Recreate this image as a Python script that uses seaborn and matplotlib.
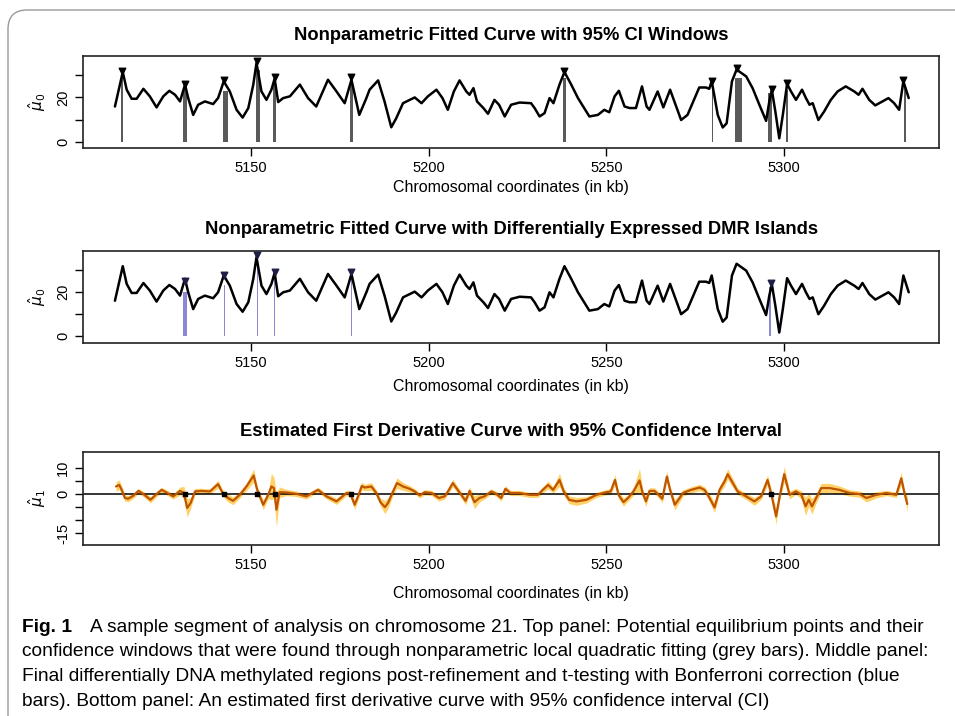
import matplotlib
matplotlib.use("Agg")
import matplotlib.pyplot as plt
import seaborn as sns
import pandas as pd
from matplotlib.patches import FancyBboxPatch

# fitted curve (mu0), x in kb
pos_kb = [5111.8, 5114.0, 5115.1, 5116.5, 5117.9, 5119.8, 5121.6, 5123.5, 5125.4, 5127.1,
          5128.7, 5130.1, 5131.5, 5132.4, 5133.8, 5135.2, 5137.1, 5139.4, 5140.8, 5142.4,
          5144.1, 5146.0, 5147.7, 5149.3, 5150.7, 5151.6, 5153.0, 5154.4, 5155.8, 5156.7,
          5157.7, 5159.1, 5161.0, 5163.8, 5166.1, 5168.4, 5171.7, 5174.1, 5176.4, 5178.3,
          5180.5, 5182.5, 5183.4, 5185.8, 5187.6, 5189.5, 5190.9, 5192.8, 5194.7, 5196.1,
          5198.0, 5199.8, 5202.2, 5203.9, 5205.4, 5207.1, 5208.7, 5210.6, 5211.5, 5212.6,
          5213.6, 5215.4, 5216.7, 5218.5, 5219.8, 5221.4, 5223.2, 5225.6, 5228.8, 5229.8,
          5231.2, 5232.6, 5234.0, 5235.1, 5236.8, 5238.2, 5240.1, 5242.0, 5245.2, 5247.6,
          5249.4, 5250.8, 5252.3, 5253.5, 5255.1, 5256.5, 5258.3, 5260.0, 5261.3, 5262.1,
          5264.4, 5266.0, 5267.9, 5269.1, 5271.0, 5272.8, 5274.2, 5276.1, 5278.0, 5278.9,
          5279.6, 5280.3, 5281.3, 5282.7, 5283.8, 5285.3, 5286.6, 5289.3, 5291.1, 5293.0,
          5294.9, 5295.8, 5296.5, 5297.5, 5298.6, 5299.6, 5300.8, 5301.9, 5303.3, 5305.0,
          5306.1, 5307.1, 5308.0, 5309.6, 5311.2, 5313.1, 5315.0, 5317.3, 5319.7, 5320.9,
          5322.0, 5323.9, 5325.6, 5327.6, 5329.3, 5330.9, 5332.3, 5333.5, 5335.0]
mu0 = [15.9, 31.5, 23.5, 19.4, 19.4, 23.9, 20.5, 15.5, 20.5, 23.0,
       21.2, 18.2, 25.8, 19.7, 12.1, 16.7, 18.2, 17.0, 19.7, 27.3,
       22.7, 14.4, 10.9, 15.2, 25.8, 35.6, 22.7, 18.9, 23.5, 28.5,
       17.9, 19.7, 20.5, 25.8, 19.7, 15.9, 28.0, 22.7, 17.4, 28.0,
       12.1, 19.7, 23.5, 27.7, 18.2, 6.5, 10.6, 17.4, 18.9, 20.0,
       17.4, 20.5, 23.5, 19.7, 14.4, 22.7, 27.7, 22.7, 21.2, 24.2,
       18.2, 15.2, 12.6, 18.9, 16.7, 11.4, 16.7, 17.7, 17.4, 15.2,
       11.4, 12.9, 19.7, 17.4, 25.8, 31.5, 25.8, 19.7, 11.4, 12.1,
       14.4, 13.3, 20.5, 23.0, 15.9, 15.2, 15.2, 25.0, 15.9, 14.4,
       22.7, 15.5, 23.5, 18.2, 9.8, 12.1, 17.4, 24.5, 24.5, 23.9,
       27.3, 21.2, 12.1, 6.4, 8.3, 27.3, 32.6, 29.5, 24.2, 16.7,
       9.4, 18.2, 23.5, 13.6, 1.5, 12.1, 26.1, 22.7, 18.9, 23.5,
       19.7, 16.7, 17.4, 9.8, 13.6, 18.9, 22.7, 25.0, 22.7, 21.2,
       23.9, 18.9, 16.4, 18.2, 19.7, 17.4, 14.4, 27.3, 19.7]

# grey CI windows (top panel)
win_center = [5113.9, 5131.4, 5142.8, 5152.0, 5156.7, 5178.3, 5238.2, 5279.8, 5287.1, 5295.9, 5300.7, 5333.9]
win_width = [0.6, 1.1, 1.4, 1.1, 0.9, 0.85, 0.95, 0.4, 2.0, 1.2, 0.45, 0.45]
win_top = [30.0, 24.0, 23.0, 32.6, 27.0, 27.0, 28.8, 25.8, 28.8, 22.0, 23.5, 25.8]
peak_x = [5113.9, 5131.4, 5142.6, 5151.7, 5156.7, 5178.3, 5238.2, 5279.6, 5286.6, 5296.5, 5300.8, 5333.5]
peak_y = [31.8, 26.1, 27.7, 36.4, 29.1, 29.1, 31.8, 27.3, 33.3, 23.8, 26.5, 28.0]

# DMR islands (middle panel)
dmr_center = [5131.4, 5142.6, 5151.8, 5156.7, 5178.3, 5296.0]
dmr_width = [1.1, 0.4, 0.3, 0.3, 0.3, 0.3]
dmr_top = [19.8, 23.0, 34.0, 27.0, 27.0, 22.0]
dmr_peak_x = [5131.4, 5142.6, 5151.7, 5156.7, 5178.3, 5296.3]
dmr_peak_y = [25.0, 27.7, 36.4, 29.1, 29.1, 23.8]

# first derivative (mu1) with CI half width
d1_kb = [5112.1, 5113.0, 5113.7, 5114.6, 5115.5, 5116.9, 5118.4, 5119.8, 5121.8, 5123.5,
         5124.9, 5126.3, 5128.2, 5130.1, 5131.2, 5132.1, 5133.1, 5134.3, 5136.1, 5138.5,
         5140.8, 5142.2, 5143.6, 5145.0, 5146.9, 5148.8, 5150.8, 5151.8, 5153.5, 5154.9,
         5155.8, 5156.5, 5157.2, 5158.1, 5160.0, 5162.8, 5165.6, 5168.9, 5171.3, 5174.1,
         5176.9, 5178.0, 5179.2, 5180.3, 5181.2, 5182.0, 5183.9, 5185.3, 5186.5, 5187.7,
         5188.6, 5190.0, 5191.1, 5192.8, 5194.7, 5196.1, 5197.5, 5198.9, 5200.8, 5202.9,
         5204.5, 5205.7, 5206.8, 5208.5, 5210.4, 5211.5, 5212.9, 5214.3, 5215.7, 5217.6,
         5219.0, 5220.4, 5221.6, 5223.0, 5225.6, 5228.4, 5230.7, 5232.1, 5233.6, 5235.0,
         5236.8, 5238.0, 5239.5, 5241.6, 5244.4, 5247.2, 5249.6, 5251.2, 5252.4, 5253.4,
         5254.8, 5256.2, 5257.6, 5259.3, 5260.2, 5261.1, 5262.1, 5263.5, 5264.7, 5265.7,
         5267.0, 5267.9, 5269.2, 5270.6, 5271.5, 5273.8, 5276.2, 5277.6, 5279.0, 5280.4,
         5281.8, 5283.2, 5284.1, 5285.3, 5286.9, 5289.3, 5291.6, 5293.5, 5295.3, 5296.3,
         5297.7, 5298.8, 5300.0, 5301.5, 5303.3, 5304.8, 5306.0, 5306.9, 5307.8, 5309.0,
         5310.4, 5312.7, 5315.5, 5318.4, 5321.2, 5323.1, 5325.9, 5328.7, 5331.5, 5332.9,
         5333.8, 5334.6]
mu1 = [2.8, 3.4, 1.5, -1.6, -1.9, -0.8, 1.1, -0.1, -2.3, -0.1,
       1.5, 0.5, -1.0, 1.1, 0.3, -5.4, -3.5, 0.9, 1.1, 0.9,
       3.7, 0.0, -1.6, -2.7, -0.4, 2.8, 7.0, 1.5, -4.2, -0.4,
       2.8, 2.2, -6.1, 0.6, 0.5, 0.0, -1.0, 1.5, -1.0, -2.9,
       0.3, 0.0, -4.2, -0.5, 3.0, 2.4, 2.8, 0.3, -3.3, -5.1,
       -3.5, 0.9, 4.1, 2.8, 1.9, 0.9, -0.6, 0.6, 0.3, -1.6,
       -1.0, 1.5, 4.1, 0.9, -2.7, 1.1, -3.2, -1.6, -1.0, 0.9,
       0.0, -1.6, 1.9, 0.3, 0.3, -0.4, -0.4, 1.5, 3.4, 1.5,
       5.3, 0.9, -2.3, -2.9, -2.3, -0.4, 0.5, 0.9, 5.3, -0.4,
       -3.2, -1.4, 0.9, 5.1, 0.3, -2.9, 1.1, 1.1, -0.4, -1.9,
       6.6, 1.5, -4.2, -1.6, 0.3, 1.5, 2.4, 1.5, -1.6, -5.2,
       1.5, 4.7, 7.5, 4.7, 0.9, -1.0, -2.9, -1.0, 5.3, 0.3,
       -8.6, -0.4, 7.5, -0.4, 0.9, -0.4, -4.8, -2.3, -4.8, -1.6,
       2.2, 2.2, 1.5, 0.3, -0.1, -1.6, -0.4, 0.3, -0.4, 5.9,
       0.3, -3.9]
mu1_hw = [1.8, 1.8, 1.5, 1.2, 1.2, 1.0, 1.0, 1.0, 1.2, 1.0,
          1.0, 1.0, 1.0, 1.5, 2.5, 3.5, 2.0, 1.2, 1.0, 1.0,
          1.5, 1.2, 1.5, 1.5, 1.2, 1.5, 2.5, 1.5, 1.8, 1.5,
          5.0, 4.0, 6.5, 2.0, 1.2, 1.0, 1.0, 1.0, 1.0, 1.2,
          1.0, 1.2, 1.8, 1.5, 1.5, 1.2, 1.5, 1.2, 1.5, 2.5,
          2.0, 1.5, 2.0, 1.5, 1.2, 1.0, 1.0, 1.0, 1.0, 1.2,
          1.0, 1.2, 1.5, 1.2, 1.5, 1.5, 2.5, 1.5, 1.0, 1.0,
          1.0, 1.2, 1.2, 1.0, 1.0, 1.0, 1.0, 1.2, 1.5, 1.2,
          2.5, 1.5, 1.5, 1.5, 1.2, 1.0, 1.0, 1.2, 2.0, 1.5,
          1.5, 1.2, 1.5, 4.5, 1.5, 2.0, 1.2, 1.2, 1.2, 1.5,
          2.0, 1.5, 2.0, 1.5, 1.2, 1.2, 1.2, 1.2, 1.5, 2.0,
          1.5, 1.8, 2.0, 1.8, 1.2, 1.2, 1.5, 1.2, 2.0, 1.5,
          3.0, 1.5, 3.0, 1.5, 1.2, 1.5, 3.5, 2.5, 3.0, 1.8,
          1.8, 1.8, 1.5, 1.2, 1.2, 1.5, 1.2, 1.0, 1.0, 2.5,
          1.5, 3.0]

caption = [
    "confidence windows that were found through nonparametric local quadratic fitting (grey bars). Middle panel:",
    "Final differentially DNA methylated regions post-refinement and t-testing with Bonferroni correction (blue",
    "bars). Bottom panel: An estimated first derivative curve with 95% confidence interval (CI)",
]

sns.set_style("ticks")
plt.rcParams["font.family"] = ["Liberation Sans", "DejaVu Sans"]
plt.rcParams["mathtext.fontset"] = "dejavusans"
plt.rcParams["text.color"] = "black"
plt.rcParams["axes.labelcolor"] = "black"

fig = plt.figure(figsize=(9.55, 7.16), dpi=100)
W, H = 955.0, 716.0

def add_axes(top_px):
    return fig.add_axes([83.3 / W, 1 - (top_px + 92) / H, 856 / W, 92 / H])

ax1 = add_axes(56.3)
ax2 = add_axes(250.5)
ax3 = add_axes(452.5)

curve = pd.DataFrame({"kb": pos_kb, "mu0": mu0})
title_kw = dict(fontsize=13.2, fontweight="bold", pad=12, color="black")
line_kw = dict(color="black", linewidth=1.8, zorder=2, solid_joinstyle="round")

# top panel
ax1.bar(win_center, win_top, width=win_width, color="#5a5a5a", linewidth=0, zorder=1)
sns.lineplot(data=curve, x="kb", y="mu0", ax=ax1, **line_kw)
ax1.scatter(peak_x, peak_y, marker="v", s=22, color="black", zorder=3)
ax1.set_title("Nonparametric Fitted Curve with 95% CI Windows", **title_kw)

# middle panel
ax2.bar(dmr_center, dmr_top, width=dmr_width, color="#8c88d4", linewidth=0, zorder=1)
sns.lineplot(data=curve, x="kb", y="mu0", ax=ax2, **line_kw)
ax2.scatter(dmr_peak_x, dmr_peak_y, marker="v", s=22, color="#1e1e46", zorder=3)
ax2.set_title("Nonparametric Fitted Curve with Differentially Expressed DMR Islands", **title_kw)

# bottom panel
deriv = pd.DataFrame({"kb": d1_kb, "mu1": mu1, "hw": mu1_hw})
ax3.fill_between(deriv["kb"], deriv["mu1"] - deriv["hw"], deriv["mu1"] + deriv["hw"],
                 color="#ffc94d", alpha=0.85, linewidth=0, zorder=1)
ax3.axhline(0, color="black", linewidth=1.1, zorder=2)
sns.lineplot(data=deriv, x="kb", y="mu1", ax=ax3, color="#bf5500", linewidth=1.6, zorder=3,
             solid_joinstyle="round")
ax3.scatter(dmr_peak_x, [0] * len(dmr_peak_x), marker="s", s=9, color="black", zorder=4)
ax3.set_title("Estimated First Derivative Curve with 95% Confidence Interval", **title_kw)

for ax in (ax1, ax2):
    ax.set_ylim(-3.0, 38.6)
    ax.set_yticks([0, 10, 20, 30])
    ax.set_yticklabels(["0", "", "20", ""])
    ax.set_ylabel(r"$\hat{\mu}_0$", fontsize=11, labelpad=6)
ax3.set_ylim(-19.4, 15.8)
ax3.set_yticks([-15, -10, -5, 0, 5, 10])
ax3.set_yticklabels(["-15", "", "", "0", "", "10"])
ax3.set_ylabel(r"$\hat{\mu}_1$", fontsize=11, labelpad=6)

for ax, lp in ((ax1, 3), (ax2, 7), (ax3, 10)):
    ax.set_xlim(5102.9, 5343.6)
    ax.set_xticks([5150, 5200, 5250, 5300])
    ax.set_xlabel("Chromosomal coordinates (in kb)", fontsize=11.5, labelpad=lp)
    ax.tick_params(axis="both", direction="out", length=6, width=1, labelsize=10.5,
                   colors="black", labelcolor="black")
    ax.tick_params(axis="y", labelrotation=90)
    for lab in ax.get_yticklabels():
        lab.set_va("center")
    for sp in ax.spines.values():
        sp.set_visible(True)
        sp.set_linewidth(1.2)
        sp.set_color("#222222")

# rounded frame around figure
frame = FancyBboxPatch((8 / W, -0.1), 1.2, 1.1 - 10 / H, boxstyle="round,pad=0,rounding_size=0.02",
                       transform=fig.transFigure, facecolor="none", edgecolor="#9a9a9a",
                       linewidth=1.0, mutation_aspect=W / H)
fig.patches.append(frame)

# caption
cap_size = 13.8
fig.text(22 / W, 1 - 627 / H, "Fig. 1", fontsize=cap_size, fontweight="bold", va="center")
fig.text(90 / W, 1 - 627 / H, "A sample segment of analysis on chromosome 21. Top panel: Potential equilibrium points and their",
         fontsize=cap_size, va="center")
for i, line in enumerate(caption):
    fig.text(22 / W, 1 - (652 + 24.5 * i) / H, line, fontsize=cap_size, va="center")

fig.savefig("out.png", dpi=100)
